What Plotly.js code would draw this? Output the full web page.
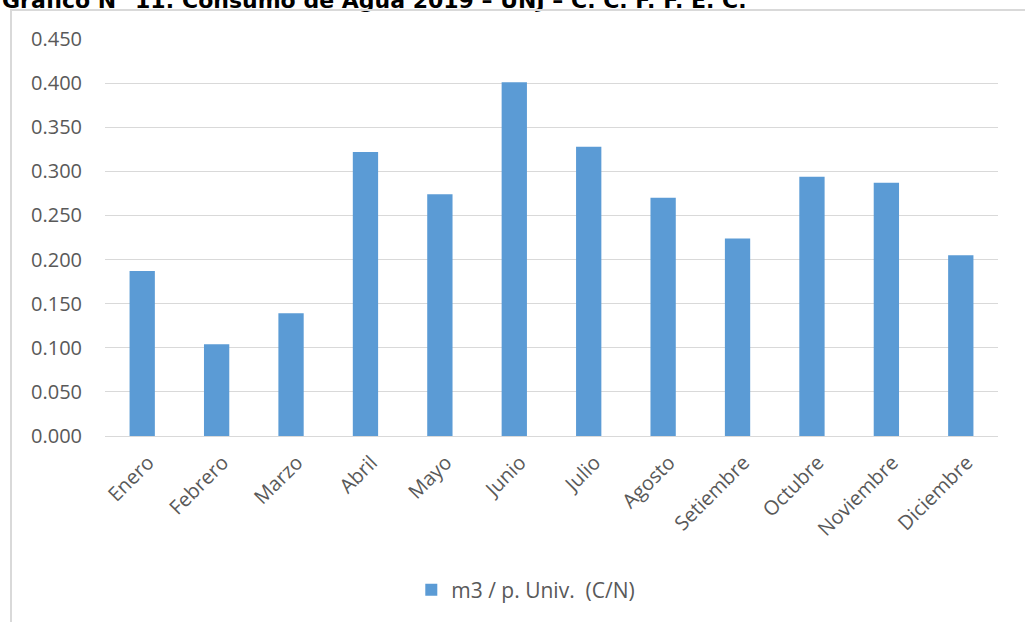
<!DOCTYPE html>
<html>
<head>
<meta charset="utf-8">
<script src="https://cdn.plot.ly/plotly-3.0.1.min.js"></script>
<style>
html,body{margin:0;padding:0;background:#fff;}
#wrap{position:relative;width:1025px;height:622px;overflow:hidden;}
#chart{position:absolute;left:0;top:0;width:1025px;height:622px;}
#frame{position:absolute;left:10px;top:9px;width:1030px;height:630px;border-left:2px solid #D9D9D9;border-top:2px solid #D9D9D9;pointer-events:none;}
</style>
</head>
<body>
<div id="wrap"><div id="chart"></div><div id="frame"></div></div>
<script>
const months = ["Enero","Febrero","Marzo","Abril","Mayo","Junio","Julio","Agosto","Setiembre","Octubre","Noviembre","Diciembre"];
const consumo = [0.187,0.104,0.139,0.322,0.274,0.401,0.328,0.270,0.224,0.294,0.287,0.205];
const seriesName = "m3 / p. Univ.&nbsp;&nbsp;(C/N)";
const titleText = "Gráfico N° 11: Consumo de Agua 2019 – UNJ – C. C. F. F. E. C.";
const yTicks = [0,0.05,0.1,0.15,0.2,0.25,0.3,0.35,0.4,0.45];

const trace = {
  type: "bar",
  x: months,
  y: consumo,
  name: seriesName,
  marker: {color: "#5B9BD5"},
  showlegend: true,
  hoverinfo: "x+y"
};

const layout = {
  width: 1025, height: 622,
  margin: {l:105, r:27, t:39, b:186},
  paper_bgcolor: "rgba(0,0,0,0)",
  plot_bgcolor: "#fff",
  bargap: 0.66,
  font: {family: "Open Sans, sans-serif", color: "#595959", size: 20},
  xaxis: {
    type: "category",
    tickangle: -45,
    showgrid: false,
    showline: true,
    linecolor: "#D9D9D9",
    linewidth: 1,
    ticks: "",
    ticklabelstandoff: 6,
    ticklabelshift: 6,
    tickfont: {size: 20, color: "#595959"},
    fixedrange: true
  },
  yaxis: {
    range: [0, 0.45],
    tickvals: yTicks,
    tickformat: ".3f",
    showgrid: true,
    gridcolor: "#D9D9D9",
    gridwidth: 1,
    zeroline: false,
    showline: false,
    ticks: "",
    ticklabelstandoff: 22,
    tickfont: {size: 20, color: "#595959"},
    fixedrange: true
  },
  showlegend: true,
  legend: {
    orientation: "h",
    x: 0.343, xanchor: "left",
    y: -0.388, yanchor: "middle",
    font: {size: 21, color: "#595959"},
    bgcolor: "rgba(0,0,0,0)"
  },
  annotations: [{
    text: "<b>" + titleText + "</b>",
    xref: "paper", yref: "paper",
    x: -0.1176, xanchor: "left",
    y: 1.06, yanchor: "bottom",
    showarrow: false,
    font: {family: "DejaVu Sans, sans-serif", size: 22, color: "#000"}
  }]
};

Plotly.newPlot("chart", [trace], layout, {displayModeBar: false, staticPlot: true});
</script>
</body>
</html>
